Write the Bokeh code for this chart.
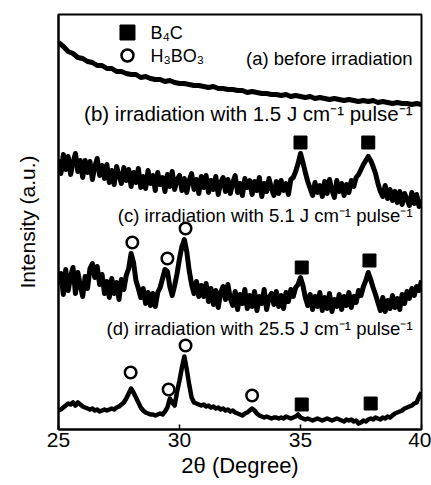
import numpy as np
from bokeh.plotting import figure
from bokeh.models import Range1d, FixedTicker, Label
from bokeh.embed import file_html
from bokeh.resources import INLINE

FONT = "Liberation Sans"

# 2-theta sampling grids (degrees)
theta_a = [round(25.0 + 0.2 * i, 2) for i in range(76)]
theta = [round(25.0 + 0.1 * i, 2) for i in range(151)]

# (a) before irradiation (arbitrary units)
int_a = [387, 383, 378, 376, 372, 371, 368, 367, 364, 364,
         361, 361, 358, 358, 356, 355, 355, 352, 353, 351,
         350, 350, 348, 349, 347, 346, 346, 345, 344, 344,
         343, 342, 343, 341, 341, 340, 340, 339, 339, 337,
         338, 337, 336, 336, 335, 335, 334, 335, 333, 334,
         333, 332, 333, 331, 332, 331, 330, 331, 330, 329,
         330, 329, 328, 329, 328, 329, 327, 328, 327, 326,
         327, 326, 326, 325, 326, 325]

# (b) 1.5 J cm-1 pulse-1
int_b = [270, 256, 275, 260, 273, 255, 267, 276, 258, 269,
         252, 269, 257, 268, 250, 263, 271, 254, 264, 251,
         265, 247, 259, 245, 263, 254, 246, 262, 249, 260,
         243, 257, 247, 261, 242, 253, 241, 259, 246, 254,
         239, 257, 245, 252, 238, 255, 243, 258, 240, 250,
         254, 239, 251, 237, 249, 256, 240, 250, 236, 253,
         242, 254, 237, 249, 240, 253, 235, 247, 252, 238,
         250, 236, 247, 254, 237, 246, 234, 251, 242, 249,
         235, 248, 239, 252, 233, 246, 238, 251, 241, 234,
         248, 236, 249, 239, 246, 235, 250, 252, 258, 266,
         276, 267, 257, 248, 241, 234, 247, 237, 244, 233,
         248, 236, 250, 239, 232, 249, 238, 246, 234, 245,
         237, 249, 243, 252, 255, 260, 265, 269, 273, 269,
         263, 256, 246, 238, 233, 244, 231, 240, 229, 238,
         227, 238, 225, 236, 230, 224, 237, 226, 235, 223,
         230]

# (c) 5.1 J cm-1 pulse-1
int_c = [145, 156, 135, 160, 139, 153, 162, 136, 157, 144,
         133, 153, 141, 161, 166, 152, 163, 145, 155, 136,
         148, 132, 151, 136, 147, 130, 150, 140, 154, 161,
         176, 167, 149, 141, 132, 141, 126, 137, 124, 136,
         123, 137, 142, 151, 160, 158, 143, 134, 144, 156,
         171, 183, 190, 178, 159, 145, 136, 148, 133, 144,
         133, 146, 128, 141, 125, 139, 122, 137, 143, 130,
         145, 131, 124, 138, 120, 135, 126, 140, 121, 134,
         123, 138, 119, 133, 126, 140, 120, 132, 136, 125,
         138, 123, 134, 121, 137, 128, 140, 133, 142, 145,
         152, 144, 132, 124, 135, 120, 133, 123, 137, 119,
         132, 121, 136, 118, 130, 123, 135, 120, 133, 124,
         137, 122, 133, 127, 139, 134, 143, 149, 157, 150,
         142, 135, 127, 119, 132, 118, 129, 121, 134, 122,
         131, 120, 135, 126, 138, 131, 141, 134, 143, 139,
         149]

# (d) 25.5 J cm-1 pulse-1
int_d = [19, 20, 22, 24, 26, 25, 27, 24, 27, 25,
         23, 22, 21, 20, 21, 19, 20, 18, 19, 20,
         19, 20, 21, 20, 22, 23, 25, 27, 31, 36,
         41, 37, 32, 27, 22, 19, 17, 16, 15, 15,
         14, 15, 16, 15, 18, 22, 31, 27, 24, 38,
         49, 62, 73, 60, 45, 32, 27, 26, 25, 24,
         25, 23, 24, 22, 23, 21, 22, 20, 21, 19,
         20, 18, 19, 17, 16, 15, 14, 16, 17, 19,
         21, 19, 16, 14, 13, 12, 13, 12, 11, 12,
         12, 11, 12, 11, 13, 12, 11, 12, 13, 15,
         12, 11, 10, 11, 10, 9, 10, 11, 10, 9,
         10, 11, 10, 9, 10, 11, 10, 9, 8, 10,
         9, 10, 8, 9, 6, 7, 9, 8, 10, 11,
         10, 12, 11, 10, 12, 11, 13, 12, 14, 16,
         17, 18, 19, 21, 22, 23, 24, 26, 27, 33,
         37]

# peak markers
b4c_x = [35.0, 37.8, 35.05, 37.85, 35.05, 37.9]
b4c_y = [287, 287, 162, 169, 25, 26]
h3bo3_x = [28.05, 29.5, 30.25, 27.98, 29.55, 30.25, 33.0]
h3bo3_y = [187, 171, 201, 57, 40, 84, 34]

x_ticks = [25, 30, 35, 40]

p = figure(width=431, height=485, x_range=Range1d(25, 40), y_range=Range1d(0, 415),
           output_backend="svg", toolbar_location=None,
           min_border_left=58, min_border_right=10, min_border_top=14, min_border_bottom=56)
p.background_fill_color = "white"
p.border_fill_color = "white"
p.xgrid.visible = False
p.ygrid.visible = False
p.outline_line_color = "black"
p.outline_line_width = 2
p.outline_line_alpha = 1

xa = p.xaxis[0]
xa.ticker = FixedTicker(ticks=x_ticks)
xa.major_tick_in = 5
xa.major_tick_out = 0
xa.minor_tick_in = 0
xa.minor_tick_out = 0
xa.major_tick_line_width = 1.5
xa.axis_line_width = 2
xa.major_label_text_font = FONT
xa.major_label_text_font_size = "21px"
xa.major_label_text_color = "black"
xa.major_label_standoff = 3
xa.axis_label = "2θ (Degree)"
xa.axis_label_text_font = FONT
xa.axis_label_text_font_size = "22px"
xa.axis_label_text_font_style = "normal"
xa.axis_label_text_color = "black"
xa.axis_label_standoff = 3

ya = p.yaxis[0]
ya.ticker = FixedTicker(ticks=[])
ya.major_tick_in = 0
ya.major_tick_out = 0
ya.minor_tick_in = 0
ya.minor_tick_out = 0
ya.major_label_standoff = 0
ya.axis_line_width = 2
ya.axis_label = "Intensity (a.u.)"
ya.axis_label_text_font = FONT
ya.axis_label_text_font_size = "21px"
ya.axis_label_text_font_style = "normal"
ya.axis_label_text_color = "black"
ya.axis_label_standoff = 20

for xs, ys, lw in [(theta_a, int_a, 5), (theta, int_b, 5), (theta, int_c, 5), (theta, int_d, 4.5)]:
    p.line(xs, ys, line_color="black", line_width=lw, line_join="round")

p.scatter(b4c_x, b4c_y, marker="square", size=13, fill_color="black", line_color="black")
p.scatter(h3bo3_x, h3bo3_y, marker="circle", size=11.5, fill_color="white",
          line_color="black", line_width=2.5)

# legend
p.scatter([27.85], [397], marker="square", size=15, fill_color="black", line_color="black")
p.scatter([27.85], [374], marker="circle", size=12, fill_color="white",
          line_color="black", line_width=2.5)
for txt, yy in [("B₄C", 397), ("H₃BO₃", 374)]:
    p.add_layout(Label(x=28.8, y=yy, text=txt, text_font=FONT, text_font_size="18px",
                       text_baseline="middle", text_align="left", text_color="black"))

# sample annotations
notes = [("(a) before irradiation", 371, "18.5px"),
         ("(b) irradiation with 1.5 J cm⁻¹ pulse⁻¹", 316, "20.5px"),
         ("(c) irradiation with 5.1 J cm⁻¹ pulse⁻¹", 214, "18.5px"),
         ("(d) irradiation with 25.5 J cm⁻¹ pulse⁻¹", 101, "18.5px")]
for txt, yy, fs in notes:
    p.add_layout(Label(x=39.63, y=yy, text=txt, text_font=FONT, text_font_size=fs,
                       text_baseline="middle", text_align="right", text_color="black"))

open("out.html", "w").write(file_html(p, INLINE))
